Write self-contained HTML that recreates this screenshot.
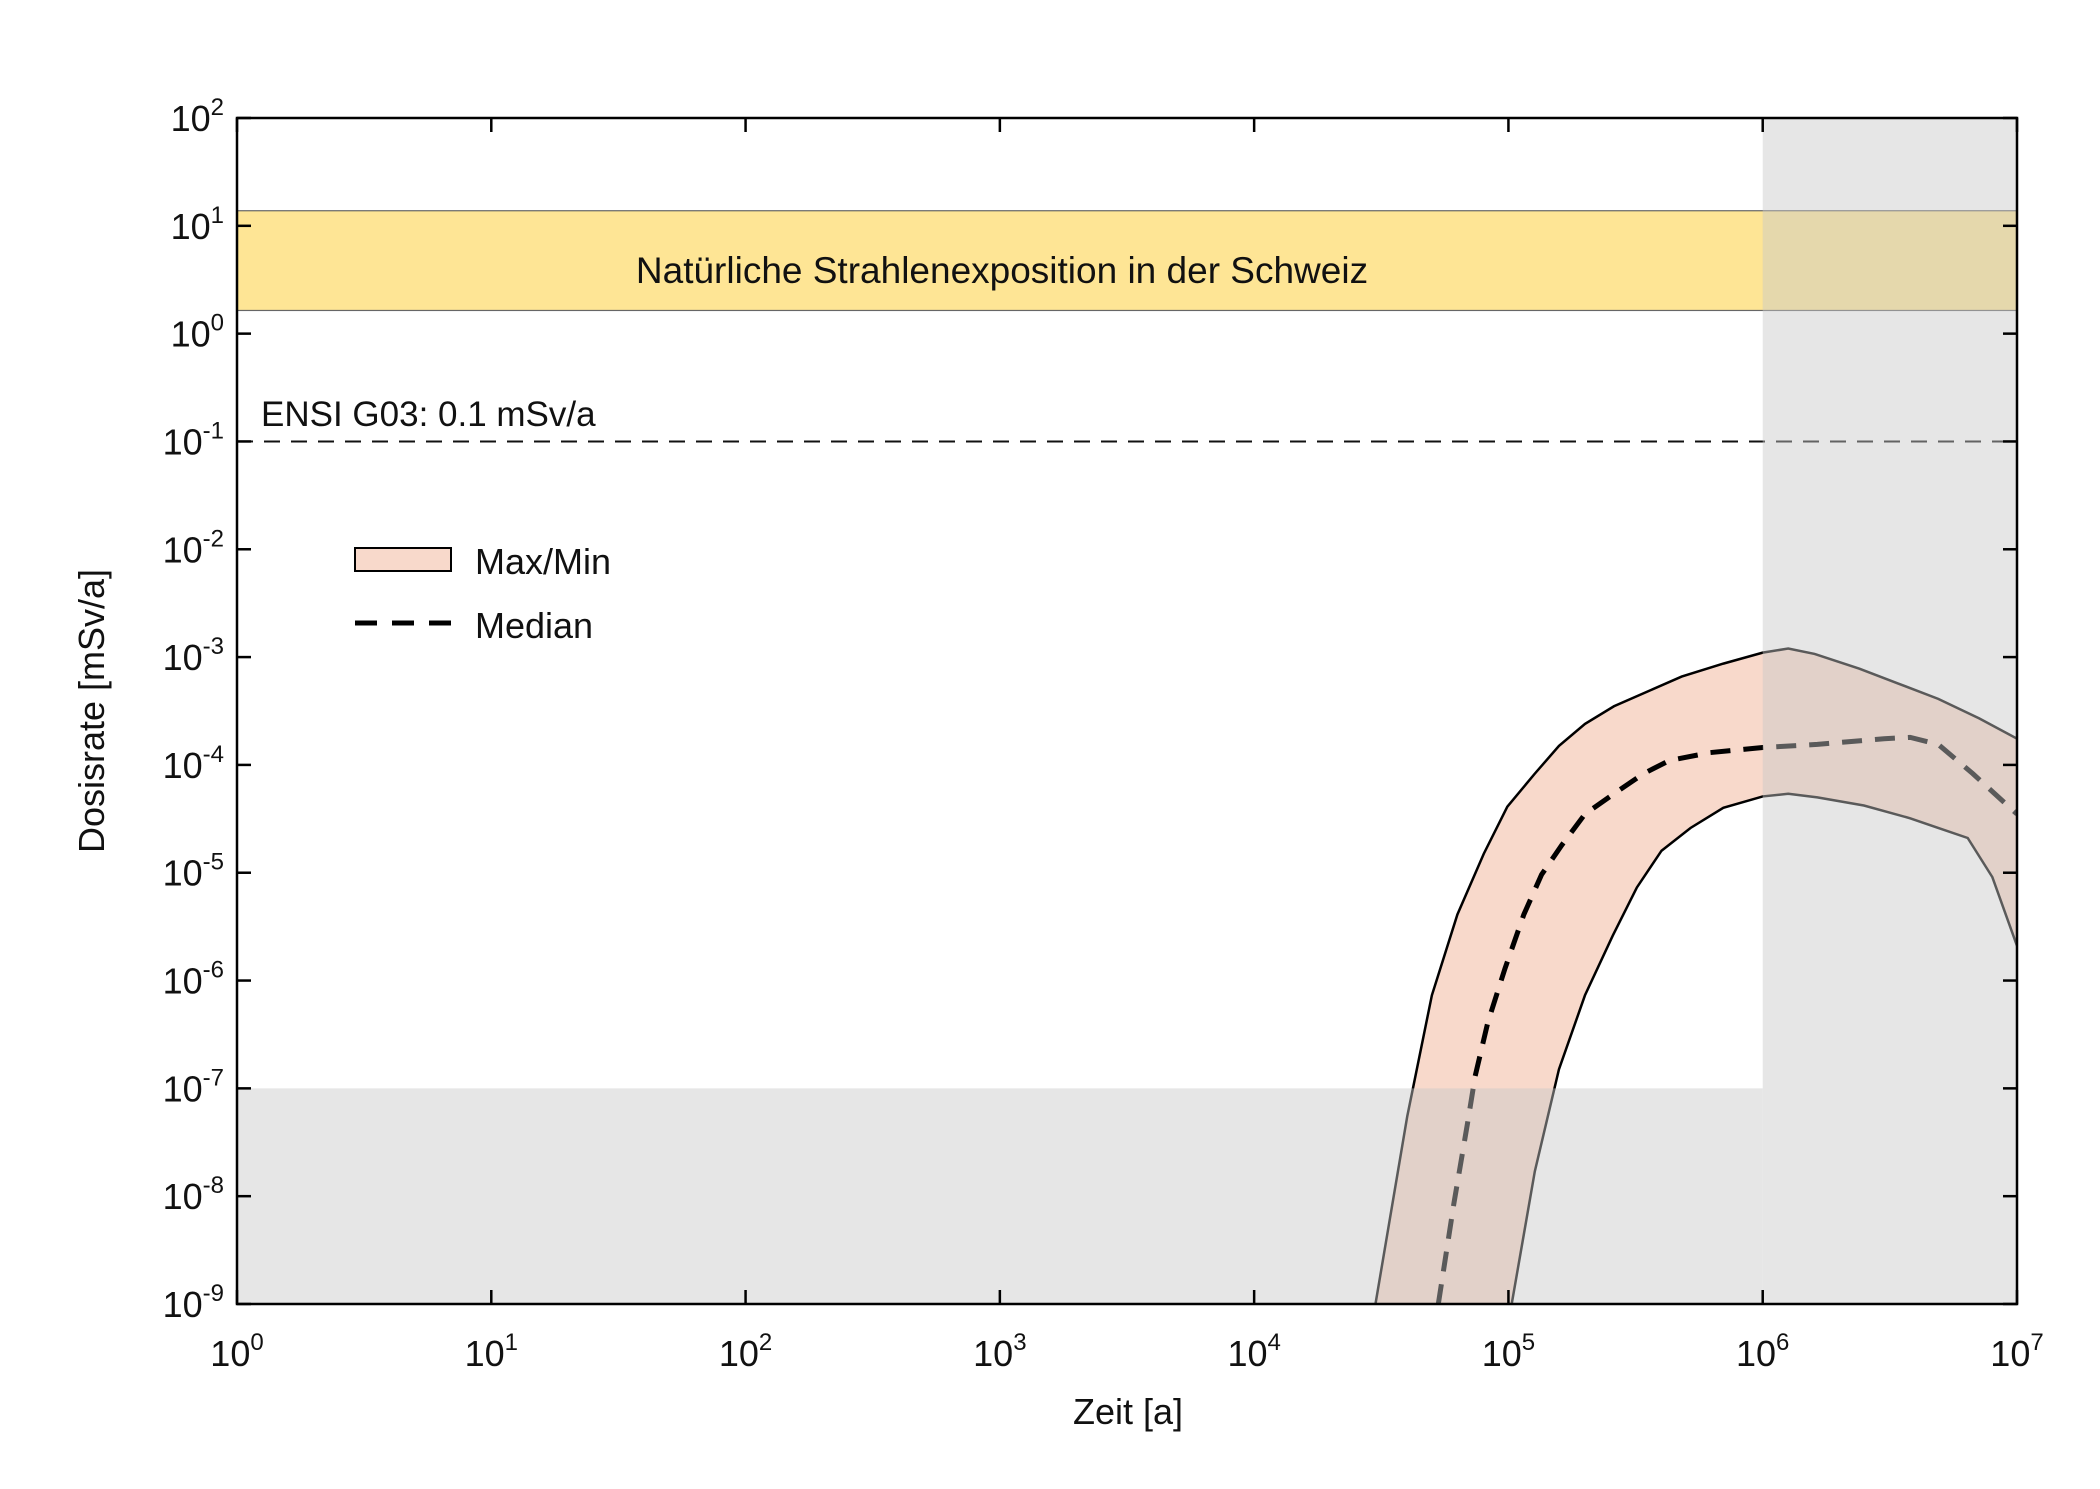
<!DOCTYPE html>
<html><head><meta charset="utf-8"><style>
html,body{margin:0;padding:0;background:#fff}
svg text{font-family:"Liberation Sans",Arial,sans-serif;fill:#111}
</style></head><body>
<svg id="chart" width="2100" height="1484" viewBox="0 0 2100 1484" xmlns="http://www.w3.org/2000/svg">
<defs><clipPath id="plotclip"><rect x="237" y="118" width="1780" height="1186"/></clipPath></defs>
<g id="plot" clip-path="url(#plotclip)"></g>
<g id="overlay"></g>
<g id="axes"></g>
</svg>
<script>
const xTicks=[0,1,2,3,4,5,6,7];
const yTicks=[2,1,0,-1,-2,-3,-4,-5,-6,-7,-8,-9];
const bandLow=1.64, bandHigh=13.8;
const ensiLimit=0.1;
const grayTimeStart=1e6, grayDoseLimit=1e-7;
const upperT=[3.0e4,4.0e4,5.0e4,6.3e4,8.0e4,9.9e4,1.27e5,1.58e5,2.0e5,2.6e5,3.6e5,4.8e5,7.0e5,1.0e6,1.26e6,1.6e6,2.4e6,3.4e6,4.9e6,7.1e6,1e7];
const upperD=[1e-9,5.5e-8,7.3e-7,4.1e-6,1.5e-5,4.1e-5,8.3e-5,1.5e-4,2.4e-4,3.5e-4,4.9e-4,6.6e-4,8.7e-4,1.1e-3,1.2e-3,1.07e-3,7.8e-4,5.7e-4,4.1e-4,2.7e-4,1.75e-4];
const lowerT=[1.03e5,1.27e5,1.58e5,2.0e5,2.57e5,3.2e5,4.0e5,5.2e5,7.0e5,1.0e6,1.26e6,1.64e6,2.5e6,3.8e6,4.9e6,6.4e6,8.0e6,1e7];
const lowerD=[1e-9,1.7e-8,1.5e-7,7.3e-7,2.6e-6,7.3e-6,1.6e-5,2.6e-5,4.0e-5,5.1e-5,5.4e-5,5.0e-5,4.2e-5,3.2e-5,2.6e-5,2.1e-5,9.1e-6,2.1e-6];
const medT=[5.3e4,6.1e4,6.9e4,7.4e4,8.3e4,9.7e4,1.15e5,1.35e5,1.62e5,2.0e5,2.6e5,3.4e5,4.3e5,6.2e5,1.0e6,1.64e6,3.0e6,3.8e6,4.9e6,6.7e6,1e7];
const medD=[1e-9,8.5e-9,4.7e-8,1.3e-7,4.1e-7,1.3e-6,4.1e-6,9.6e-6,1.8e-5,3.5e-5,5.4e-5,8.3e-5,1.1e-4,1.3e-4,1.45e-4,1.55e-4,1.75e-4,1.8e-4,1.55e-4,8.3e-5,3.5e-5];

const L=237,R=2017,T=118,B=1304;
const xs=t=>L+(Math.log10(t)-0)/7*(R-L);
const ys=d=>T+(2-Math.log10(d))/11*(B-T);
const NS="http://www.w3.org/2000/svg";
function mk(tag,attrs,parent){const e=document.createElementNS(NS,tag);for(const k in attrs)e.setAttribute(k,attrs[k]);parent.appendChild(e);return e;}
const plot=document.getElementById('plot'),ov=document.getElementById('overlay'),ax=document.getElementById('axes');

let e=mk('rect',{x:L,y:ys(bandHigh),width:R-L,height:ys(bandLow)-ys(bandHigh),fill:'#fee595',stroke:'#666','stroke-width':1.2},plot);


e=mk('text',{x:1002,y:283,'font-size':37,'text-anchor':'middle'},plot);e.textContent='Natürliche Strahlenexposition in der Schweiz';


e=mk('line',{x1:L,x2:R,y1:ys(ensiLimit),y2:ys(ensiLimit),stroke:'#111','stroke-width':2,'stroke-dasharray':'16 11'},plot);


e=mk('text',{x:261,y:426,'font-size':35},plot);e.textContent='ENSI G03: 0.1 mSv/a';



let pts=upperT.map((t,i)=>xs(t)+','+ys(upperD[i]));
let low=lowerT.map((t,i)=>xs(t)+','+ys(lowerD[i])).reverse();
e=mk('polygon',{points:pts.concat(low).join(' '),fill:'#f8d9cb',stroke:'none'},plot);


e=mk('polyline',{points:pts.join(' '),fill:'none',stroke:'#000','stroke-width':2.5},plot);


e=mk('polyline',{points:lowerT.map((t,i)=>xs(t)+','+ys(lowerD[i])).join(' '),fill:'none',stroke:'#000','stroke-width':2.5},plot);


e=mk('polyline',{points:medT.map((t,i)=>xs(t)+','+ys(medD[i])).join(' '),fill:'none',stroke:'#000','stroke-width':5,'stroke-dasharray':'20 13'},plot);



e=mk('rect',{x:xs(grayTimeStart),y:T,width:R-xs(grayTimeStart),height:B-T,fill:'rgb(200,200,200)','fill-opacity':0.45},ov);


e=mk('rect',{x:L,y:ys(grayDoseLimit),width:xs(grayTimeStart)-L,height:B-ys(grayDoseLimit),fill:'rgb(200,200,200)','fill-opacity':0.45},ov);



e=mk('rect',{x:L,y:T,width:R-L,height:B-T,fill:'none',stroke:'#000','stroke-width':2.5},ax);


xTicks.forEach(k=>{const x=xs(Math.pow(10,k));
 mk('line',{x1:x,x2:x,y1:B,y2:B-14,stroke:'#000','stroke-width':2.5},ax);
 mk('line',{x1:x,x2:x,y1:T,y2:T+14,stroke:'#000','stroke-width':2.5},ax);
 const t=mk('text',{x:x,y:1366,'font-size':36,'text-anchor':'middle'},ax);
 
 
 t.innerHTML='10<tspan dy="-16" font-size="24">'+k+'</tspan>';
});
yTicks.forEach(k=>{const y=ys(Math.pow(10,k));
 mk('line',{x1:L,x2:L+14,y1:y,y2:y,stroke:'#000','stroke-width':2.5},ax);
 mk('line',{x1:R,x2:R-14,y1:y,y2:y,stroke:'#000','stroke-width':2.5},ax);
 const t=mk('text',{x:224,y:y+13,'font-size':36,'text-anchor':'end'},ax);
 
 
 t.innerHTML='10<tspan dy="-16" font-size="24">'+k+'</tspan>';
});
e=mk('text',{x:1128,y:1424,'font-size':36,'text-anchor':'middle'},ax);e.textContent='Zeit [a]';


e=mk('text',{x:0,y:0,'font-size':36,'text-anchor':'middle',transform:'translate(104,711) rotate(-90)'},ax);e.textContent='Dosisrate [mSv/a]';


e=mk('rect',{x:355,y:548,width:96,height:23,fill:'#f8d9cb',stroke:'#000','stroke-width':2},ax);


e=mk('text',{x:475,y:574,'font-size':36},ax);e.textContent='Max/Min';


e=mk('line',{x1:355,x2:451,y1:623,y2:623,stroke:'#000','stroke-width':5,'stroke-dasharray':'22 15'},ax);


e=mk('text',{x:475,y:638,'font-size':36},ax);e.textContent='Median';


</script>
</body></html>
